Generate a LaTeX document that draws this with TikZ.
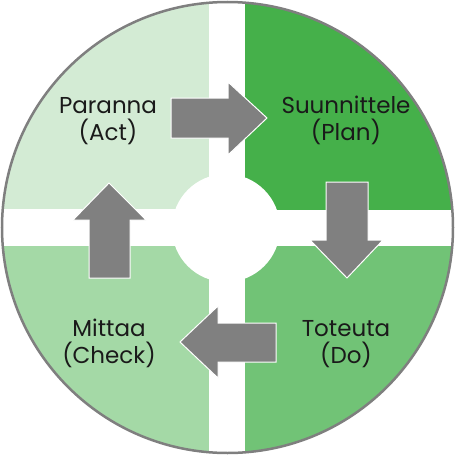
\documentclass[tikz,border=0pt]{standalone}
\usepackage{fontspec}
\setmainfont{Poppins}
\definecolor{qact}{HTML}{D3EBD4}
\definecolor{qplan}{HTML}{45B04A}
\definecolor{qdo}{HTML}{71C376}
\definecolor{qcheck}{HTML}{A4D9A6}
\definecolor{arrowgray}{HTML}{808080}
\definecolor{rimgray}{HTML}{7F7F7F}
\definecolor{txt}{HTML}{1A1A1A}
\begin{document}
\begin{tikzpicture}[x=1pt,y=-1pt,
  blockarrow/.style={fill=arrowgray,draw=white,line width=1pt,line join=miter},
  label/.style={font=\fontsize{23}{27}\selectfont,text=txt,inner sep=0pt,anchor=base}]
\useasboundingbox (0,0) rectangle (455,455);
\begin{scope}
  \clip (227.5,227.5) circle (226);
  \fill[qact]   (0,0) rectangle (209,209);
  \fill[qplan]  (245,0) rectangle (455,210);
  \fill[qdo]    (245,246) rectangle (455,455);
  \fill[qcheck] (0,246) rectangle (209,455);
  \fill[white] (226,228) circle (54);
\end{scope}
\draw[rimgray,line width=2.5pt] (227.5,227.5) circle (225.5);
% arrows
\draw[blockarrow] (171,98) -- (228,98) -- (228,82) -- (267,118) -- (228,155) -- (228,138) -- (171,138) -- cycle;
\draw[blockarrow] (326,182) -- (326,240) -- (310,240) -- (347,278) -- (383,240) -- (368,240) -- (368,182) -- cycle;
\draw[blockarrow] (276,323) -- (218,323) -- (218,306) -- (180,342) -- (218,378) -- (218,362) -- (276,362) -- cycle;
\draw[blockarrow] (89,278) -- (89,220) -- (73,220) -- (109,183) -- (146,220) -- (130,220) -- (130,278) -- cycle;
% labels
\node[label] (act)    at (108,113) {Paranna};
\node[label] (acten)  at (108,140) {(Act)};
\node[label] (plan)   at (346,113) {Suunnittele};
\node[label] (planen) at (346,140) {(Plan)};
\node[label] (do)     at (346,336) {Toteuta};
\node[label] (doen)   at (346,363) {(Do)};
\node[label] (check)  at (109,336) {Mittaa};
\node[label] (checken) at (109,363) {(Check)};
\end{tikzpicture}
\end{document}
